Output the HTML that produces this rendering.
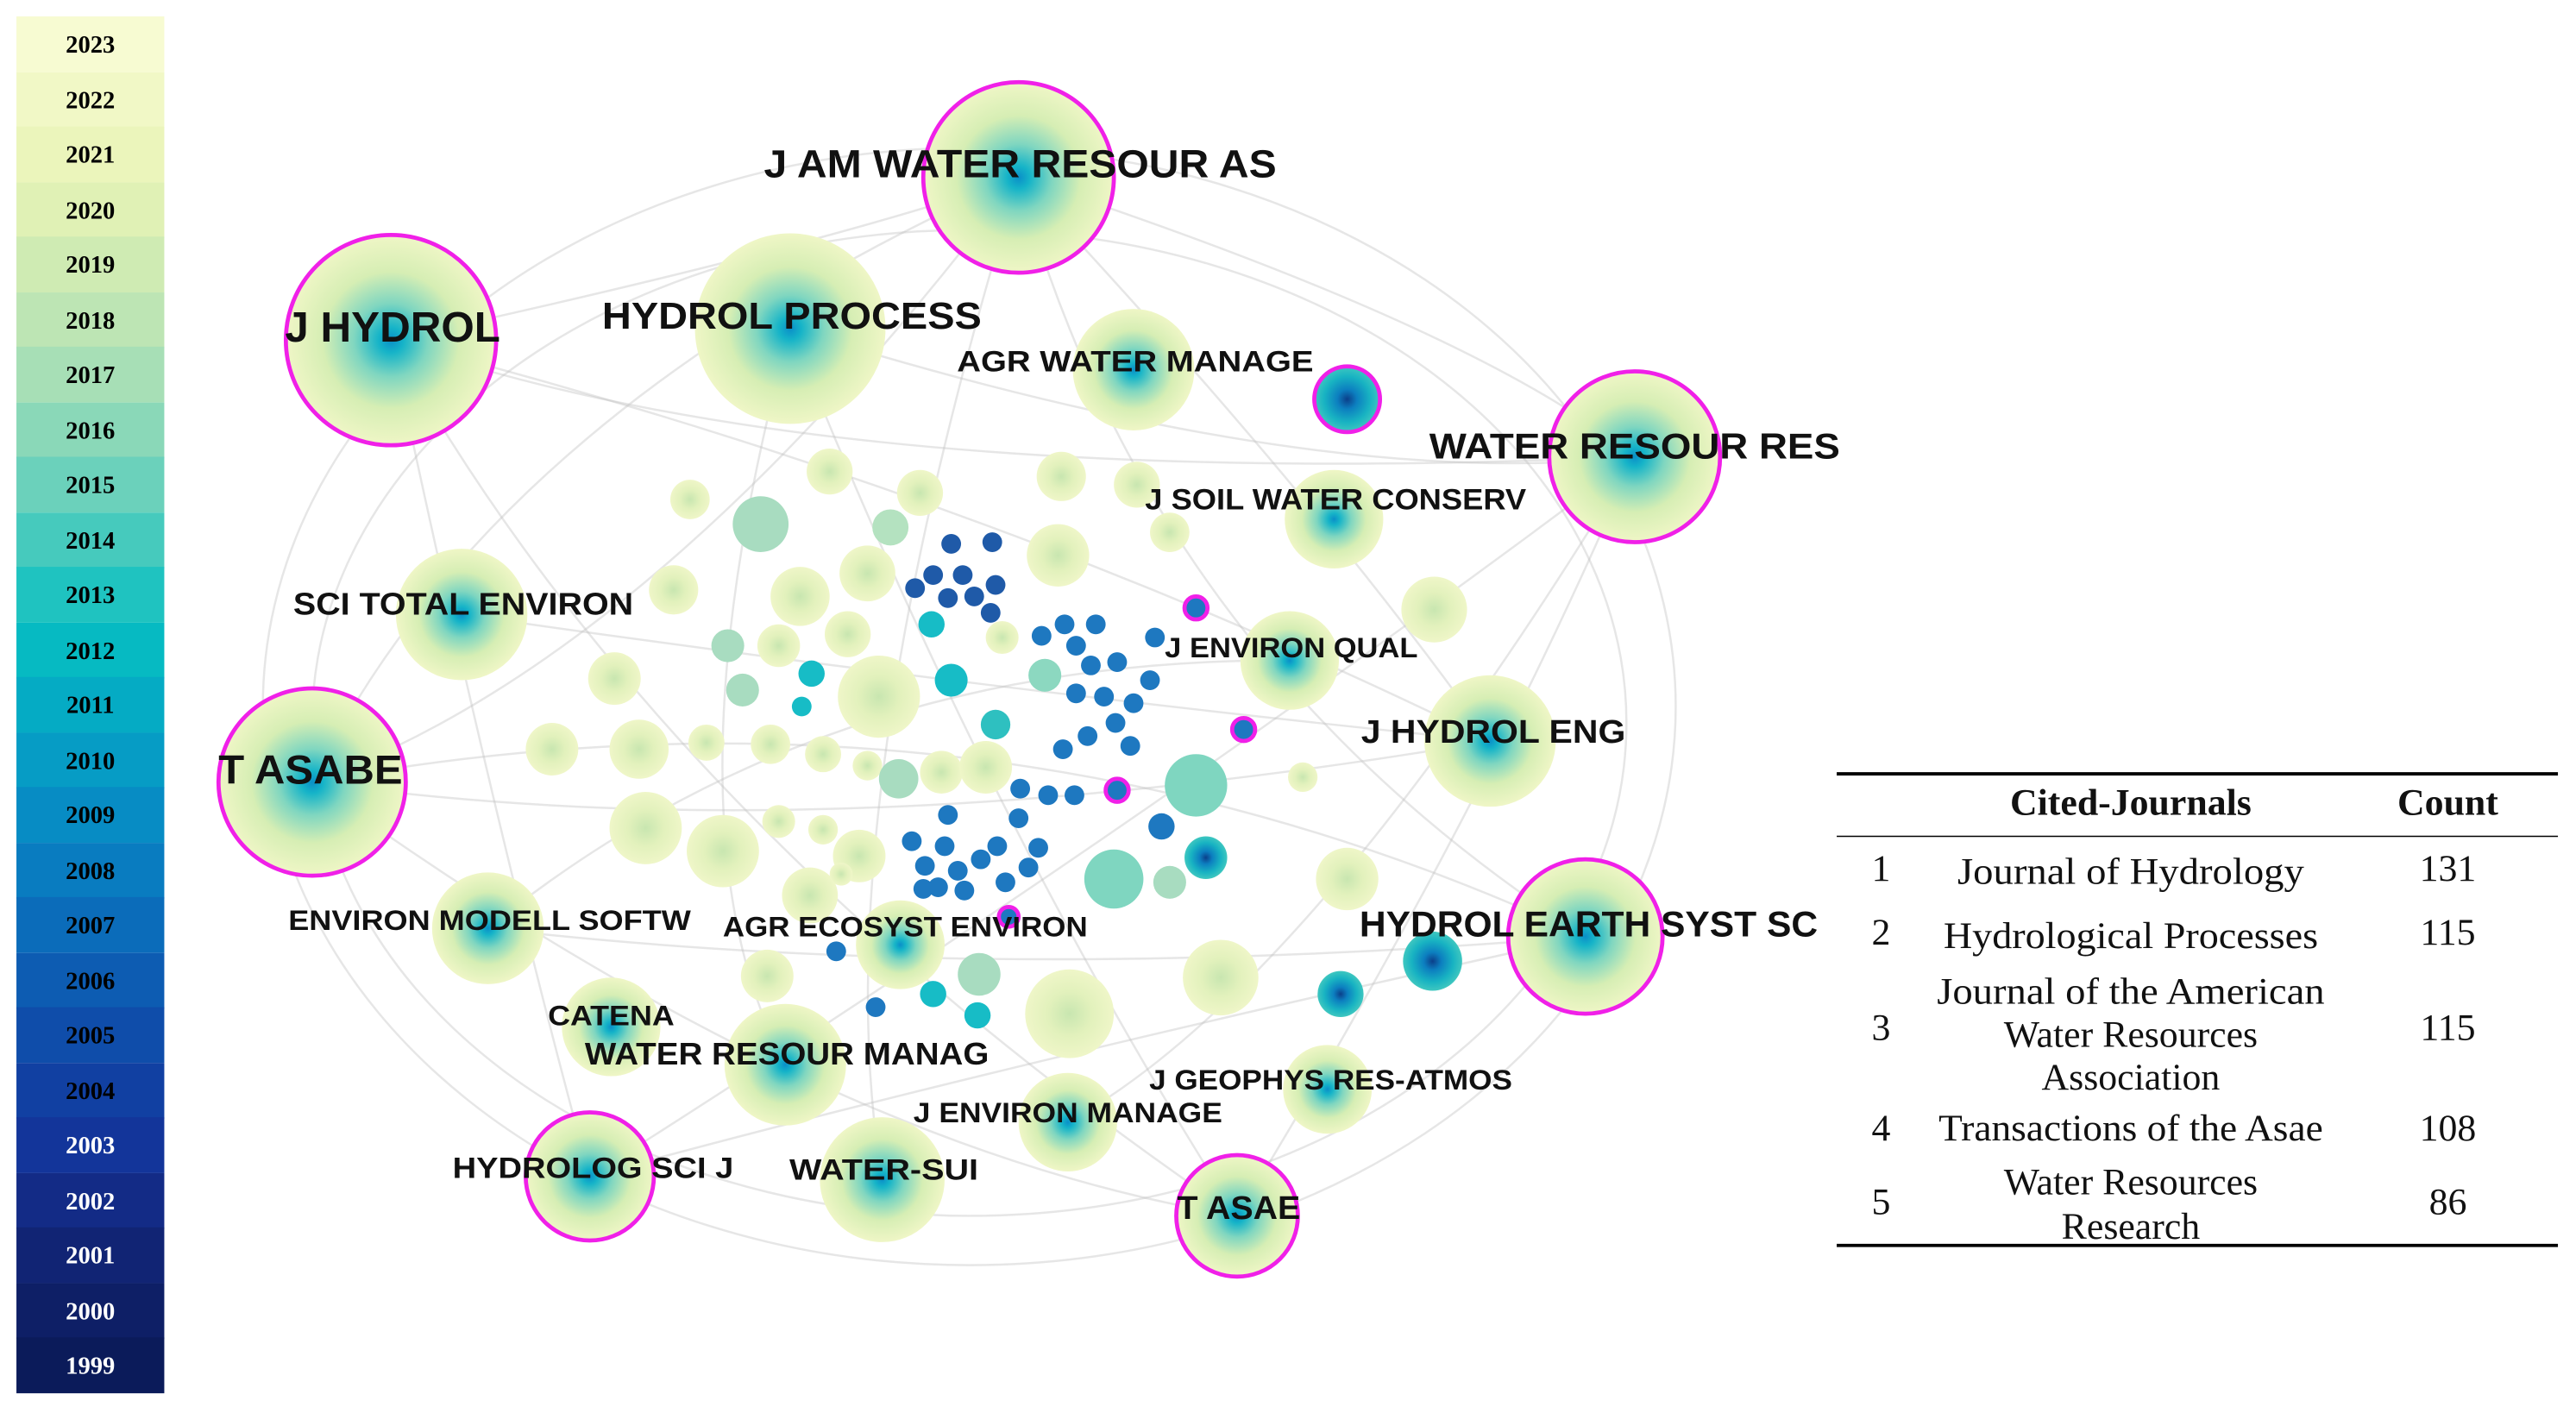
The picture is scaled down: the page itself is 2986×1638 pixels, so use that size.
<!DOCTYPE html>
<html><head><meta charset="utf-8"><style>
html,body{margin:0;padding:0;background:#fff;width:2986px;height:1638px;overflow:hidden}
svg{display:block}
.lab{font-family:"Liberation Sans",sans-serif;font-weight:bold;fill:#111}
.yr{font-family:"Liberation Serif",serif;font-weight:bold;font-size:15px;fill:#000;text-anchor:middle}
.yw{fill:#fff}
.t{font-family:"Liberation Serif",serif;font-size:23px;fill:#111;text-anchor:middle}
</style></head><body>
<svg width="2986" height="1638" viewBox="0 0 1568 860" preserveAspectRatio="none">
<defs>
<radialGradient id="g"><stop offset="0" stop-color="#0a8fc8"/><stop offset="0.12" stop-color="#16b4c8"/><stop offset="0.35" stop-color="#7fd6c0"/><stop offset="0.65" stop-color="#d6eeb4"/><stop offset="1" stop-color="#eff6c6"/></radialGradient>
<radialGradient id="p"><stop offset="0" stop-color="#c8e6b0"/><stop offset="0.5" stop-color="#e2f1bc"/><stop offset="1" stop-color="#eff6c8"/></radialGradient>
<radialGradient id="d"><stop offset="0" stop-color="#0b3f8a"/><stop offset="0.3" stop-color="#0c7fc0"/><stop offset="0.7" stop-color="#18b3c2"/><stop offset="1" stop-color="#3fc7c0"/></radialGradient>
</defs>
<g>
<rect x="10" y="10" width="90" height="34" fill="#f7fbd2"/><rect x="10" y="44" width="90" height="34" fill="#f1f8c6"/>
<rect x="10" y="77" width="90" height="34" fill="#ebf5bb"/><rect x="10" y="111" width="90" height="34" fill="#e0f1b5"/>
<rect x="10" y="144" width="90" height="34" fill="#cfebb3"/><rect x="10" y="178" width="90" height="34" fill="#bde5b4"/>
<rect x="10" y="211" width="90" height="34" fill="#a7dfb6"/><rect x="10" y="245" width="90" height="34" fill="#8ad8b8"/>
<rect x="10" y="278" width="90" height="34" fill="#6bd1bb"/><rect x="10" y="312" width="90" height="34" fill="#46cabd"/>
<rect x="10" y="345" width="90" height="34" fill="#1fc3c0"/><rect x="10" y="379" width="90" height="34" fill="#06bac2"/>
<rect x="10" y="412" width="90" height="34" fill="#05abc4"/><rect x="10" y="446" width="90" height="34" fill="#069cc5"/>
<rect x="10" y="479" width="90" height="34" fill="#078cc4"/><rect x="10" y="513" width="90" height="34" fill="#097cc0"/>
<rect x="10" y="546" width="90" height="34" fill="#0b6cba"/><rect x="10" y="580" width="90" height="34" fill="#0d5cb2"/>
<rect x="10" y="613" width="90" height="34" fill="#0f4daa"/><rect x="10" y="647" width="90" height="34" fill="#1140a2"/>
<rect x="10" y="680" width="90" height="34" fill="#13359a"/><rect x="10" y="714" width="90" height="34" fill="#132b86"/>
<rect x="10" y="747" width="90" height="34" fill="#112474"/><rect x="10" y="781" width="90" height="34" fill="#0e1f66"/>
<rect x="10" y="814" width="90" height="34" fill="#0b1b5a"/>
<text class="yr" x="55" y="32">2023</text><text class="yr" x="55" y="66">2022</text><text class="yr" x="55" y="99">2021</text>
<text class="yr" x="55" y="133">2020</text><text class="yr" x="55" y="166">2019</text><text class="yr" x="55" y="200">2018</text>
<text class="yr" x="55" y="233">2017</text><text class="yr" x="55" y="267">2016</text><text class="yr" x="55" y="300">2015</text>
<text class="yr" x="55" y="334">2014</text><text class="yr" x="55" y="367">2013</text><text class="yr" x="55" y="401">2012</text>
<text class="yr" x="55" y="434">2011</text><text class="yr" x="55" y="468">2010</text><text class="yr" x="55" y="501">2009</text>
<text class="yr" x="55" y="535">2008</text><text class="yr" x="55" y="568">2007</text><text class="yr" x="55" y="602">2006</text>
<text class="yr" x="55" y="635">2005</text><text class="yr" x="55" y="669">2004</text><text class="yr yw" x="55" y="702">2003</text>
<text class="yr yw" x="55" y="736">2002</text><text class="yr yw" x="55" y="769">2001</text><text class="yr yw" x="55" y="803">2000</text>
<text class="yr yw" x="55" y="836">1999</text>
</g>
<g fill="none" stroke="#c0c0c0" stroke-opacity="0.4" stroke-width="1.3">
<ellipse cx="590" cy="430" rx="430" ry="340"/>
<ellipse cx="590" cy="440" rx="400" ry="300"/>
<path d="M238 207 Q500 300 995 278"/><path d="M238 207 Q400 500 753 740"/><path d="M620 108 Q400 400 190 476"/>
<path d="M620 108 Q700 400 965 570"/><path d="M995 278 Q700 500 359 716"/><path d="M190 476 Q600 400 965 570"/>
<path d="M481 200 Q600 500 753 740"/><path d="M238 207 Q600 300 907 451"/><path d="M620 108 Q500 500 537 718"/>
<path d="M190 476 Q500 700 753 740"/><path d="M995 278 Q800 600 650 683"/><path d="M481 200 Q800 300 995 278"/>
<path d="M281 374 Q600 420 907 451"/><path d="M297 565 Q600 600 965 570"/><path d="M359 716 Q600 650 965 570"/>
<path d="M238 207 Q300 500 359 716"/><path d="M620 108 Q900 200 995 278"/><path d="M190 476 Q300 250 620 108"/>
<path d="M238 207 Q500 150 620 108"/><path d="M190 476 Q500 520 907 451"/><path d="M481 200 Q400 500 478 648"/>
<path d="M995 278 Q900 500 753 740"/><path d="M620 108 Q800 300 907 451"/><path d="M297 565 Q500 400 785 402"/>
</g>
<g fill="url(#p)">
<circle cx="420" cy="304" r="12"/><circle cx="505" cy="287" r="14"/><circle cx="560" cy="300" r="14"/><circle cx="463" cy="319" r="17" fill="#a8dcc0"/>
<circle cx="542" cy="321" r="11" fill="#b4e2c0"/><circle cx="528" cy="349" r="17"/><circle cx="646" cy="290" r="15"/><circle cx="692" cy="295" r="14"/>
<circle cx="712" cy="324" r="12"/><circle cx="644" cy="338" r="19"/><circle cx="410" cy="359" r="15"/><circle cx="487" cy="363" r="18"/>
<circle cx="474" cy="393" r="13"/><circle cx="516" cy="386" r="14"/><circle cx="610" cy="388" r="10"/><circle cx="873" cy="371" r="20"/>
<circle cx="374" cy="413" r="16"/><circle cx="443" cy="393" r="10" fill="#a8dcc0"/><circle cx="452" cy="420" r="10" fill="#a8dcc0"/><circle cx="535" cy="424" r="25"/>
<circle cx="336" cy="456" r="16"/><circle cx="389" cy="456" r="18"/><circle cx="430" cy="452" r="11"/><circle cx="469" cy="453" r="12"/>
<circle cx="501" cy="459" r="11"/><circle cx="528" cy="466" r="9"/><circle cx="547" cy="474" r="12" fill="#a8dcc0"/><circle cx="573" cy="470" r="13"/>
<circle cx="600" cy="467" r="16"/><circle cx="393" cy="504" r="22"/><circle cx="440" cy="518" r="22"/><circle cx="474" cy="500" r="10"/>
<circle cx="501" cy="505" r="9"/><circle cx="523" cy="521" r="16"/><circle cx="493" cy="545" r="17"/><circle cx="467" cy="594" r="16"/>
<circle cx="651" cy="617" r="27"/><circle cx="743" cy="595" r="23"/><circle cx="820" cy="535" r="19"/><circle cx="793" cy="473" r="9"/>
<circle cx="596" cy="593" r="13" fill="#a8dcc0"/><circle cx="512" cy="532" r="7"/><circle cx="678" cy="535" r="18" fill="#7fd6c0"/><circle cx="712" cy="537" r="10" fill="#a8dcc0"/>
<circle cx="728" cy="478" r="19" fill="#7fd6c0"/><circle cx="636" cy="411" r="10" fill="#8cd8c0"/><circle cx="606" cy="441" r="9" fill="#2ec0c0"/>
</g>
<g fill="url(#g)">
<circle cx="620" cy="108" r="58"/><circle cx="238" cy="207" r="64"/><circle cx="481" cy="200" r="58"/><circle cx="690" cy="225" r="37"/>
<circle cx="995" cy="278" r="52"/><circle cx="812" cy="316" r="30"/><circle cx="281" cy="374" r="40"/><circle cx="190" cy="476" r="57"/>
<circle cx="785" cy="402" r="30"/><circle cx="907" cy="451" r="40"/><circle cx="965" cy="570" r="47"/><circle cx="297" cy="565" r="34"/>
<circle cx="548" cy="575" r="27"/><circle cx="372" cy="625" r="30"/><circle cx="478" cy="648" r="37"/><circle cx="808" cy="663" r="27"/>
<circle cx="650" cy="683" r="30"/><circle cx="359" cy="716" r="39"/><circle cx="537" cy="718" r="38"/><circle cx="753" cy="740" r="37"/>
<circle cx="820" cy="243" r="20" fill="url(#d)"/><circle cx="872" cy="585" r="18" fill="url(#d)"/><circle cx="816" cy="605" r="14" fill="url(#d)"/>
<circle cx="734" cy="522" r="13" fill="url(#d)"/>
</g>
<g fill="#1f5aa8">
<circle cx="579" cy="331" r="6"/><circle cx="604" cy="330" r="6"/><circle cx="568" cy="350" r="6"/><circle cx="586" cy="350" r="6"/>
<circle cx="557" cy="358" r="6"/><circle cx="577" cy="364" r="6"/><circle cx="593" cy="363" r="6"/><circle cx="606" cy="356" r="6"/><circle cx="603" cy="373" r="6"/>
</g>
<g fill="#1e78c0">
<circle cx="648" cy="380" r="6"/><circle cx="667" cy="380" r="6"/><circle cx="634" cy="387" r="6"/><circle cx="655" cy="393" r="6"/><circle cx="703" cy="388" r="6"/>
<circle cx="664" cy="405" r="6"/><circle cx="680" cy="403" r="6"/><circle cx="700" cy="414" r="6"/><circle cx="655" cy="422" r="6"/><circle cx="672" cy="424" r="6"/>
<circle cx="690" cy="428" r="6"/><circle cx="679" cy="440" r="6"/><circle cx="662" cy="448" r="6"/><circle cx="647" cy="456" r="6"/><circle cx="688" cy="454" r="6"/>
<circle cx="621" cy="480" r="6"/><circle cx="638" cy="484" r="6"/><circle cx="654" cy="484" r="6"/><circle cx="577" cy="496" r="6"/><circle cx="620" cy="498" r="6"/>
<circle cx="555" cy="512" r="6"/><circle cx="575" cy="515" r="6"/><circle cx="607" cy="515" r="6"/><circle cx="632" cy="516" r="6"/><circle cx="563" cy="527" r="6"/>
<circle cx="583" cy="530" r="6"/><circle cx="597" cy="523" r="6"/><circle cx="626" cy="528" r="6"/><circle cx="571" cy="540" r="6"/><circle cx="587" cy="542" r="6"/>
<circle cx="612" cy="537" r="6"/><circle cx="509" cy="579" r="6"/><circle cx="533" cy="613" r="6"/><circle cx="562" cy="541" r="6"/><circle cx="707" cy="503" r="8"/>
</g>
<g fill="#17bcc6"><circle cx="567" cy="380" r="8"/><circle cx="579" cy="414" r="10"/><circle cx="494" cy="410" r="8"/><circle cx="568" cy="605" r="8"/><circle cx="595" cy="618" r="8"/><circle cx="488" cy="430" r="6"/></g>
<g fill="none" stroke="#f020e8" stroke-width="2.5">
<circle cx="620" cy="108" r="58"/><circle cx="238" cy="207" r="64"/><circle cx="995" cy="278" r="52"/><circle cx="190" cy="476" r="57"/>
<circle cx="965" cy="570" r="47"/><circle cx="359" cy="716" r="39"/><circle cx="753" cy="740" r="37"/><circle cx="820" cy="243" r="20"/>
<circle cx="728" cy="370" r="7" fill="#1e78c0"/><circle cx="757" cy="444" r="7" fill="#1e78c0"/><circle cx="680" cy="481" r="7" fill="#1e78c0"/><circle cx="614" cy="558" r="6" fill="#1e78c0"/>
</g>
<g class="lab" text-anchor="middle" lengthAdjust="spacingAndGlyphs">
<text x="621" y="108" font-size="24" textLength="312" lengthAdjust="spacingAndGlyphs">J AM WATER RESOUR AS</text>
<text x="239" y="208" font-size="26" textLength="131" lengthAdjust="spacingAndGlyphs">J HYDROL</text>
<text x="482" y="200" font-size="23" textLength="231" lengthAdjust="spacingAndGlyphs">HYDROL PROCESS</text>
<text x="691" y="226" font-size="18" textLength="217" lengthAdjust="spacingAndGlyphs">AGR WATER MANAGE</text>
<text x="995" y="279" font-size="22" textLength="250" lengthAdjust="spacingAndGlyphs">WATER RESOUR RES</text>
<text x="813" y="310" font-size="18" textLength="232" lengthAdjust="spacingAndGlyphs">J SOIL WATER CONSERV</text>
<text x="282" y="374" font-size="19" textLength="207" lengthAdjust="spacingAndGlyphs">SCI TOTAL ENVIRON</text>
<text x="786" y="400" font-size="17" textLength="154" lengthAdjust="spacingAndGlyphs">J ENVIRON QUAL</text>
<text x="189" y="477" font-size="25" textLength="112" lengthAdjust="spacingAndGlyphs">T ASABE</text>
<text x="909" y="452" font-size="20" textLength="161" lengthAdjust="spacingAndGlyphs">J HYDROL ENG</text>
<text x="967" y="570" font-size="22" textLength="279" lengthAdjust="spacingAndGlyphs">HYDROL EARTH SYST SC</text>
<text x="298" y="566" font-size="17" textLength="245" lengthAdjust="spacingAndGlyphs">ENVIRON MODELL SOFTW</text>
<text x="551" y="570" font-size="17" textLength="222" lengthAdjust="spacingAndGlyphs">AGR ECOSYST ENVIRON</text>
<text x="372" y="624" font-size="17" textLength="77" lengthAdjust="spacingAndGlyphs">CATENA</text>
<text x="479" y="648" font-size="19" textLength="246" lengthAdjust="spacingAndGlyphs">WATER RESOUR MANAG</text>
<text x="810" y="663" font-size="17" textLength="221" lengthAdjust="spacingAndGlyphs">J GEOPHYS RES-ATMOS</text>
<text x="650" y="683" font-size="17" textLength="188" lengthAdjust="spacingAndGlyphs">J ENVIRON MANAGE</text>
<text x="361" y="717" font-size="18" textLength="171" lengthAdjust="spacingAndGlyphs">HYDROLOG SCI J</text>
<text x="538" y="718" font-size="18" textLength="115" lengthAdjust="spacingAndGlyphs">WATER-SUI</text>
<text x="754" y="742" font-size="20" textLength="75" lengthAdjust="spacingAndGlyphs">T ASAE</text>
</g>
<g>
<line x1="1118" y1="471" x2="1557" y2="471" stroke="#000" stroke-width="2"/>
<line x1="1118" y1="509" x2="1557" y2="509" stroke="#000" stroke-width="0.8"/>
<line x1="1118" y1="758" x2="1557" y2="758" stroke="#000" stroke-width="2"/>
<text class="t" x="1297" y="496" font-weight="bold" font-size="22">Cited-Journals</text>
<text class="t" x="1490" y="496" font-weight="bold" font-size="22">Count</text>
<text class="t" x="1145" y="536">1</text><text class="t" x="1297" y="538" textLength="211" lengthAdjust="spacingAndGlyphs">Journal of Hydrology</text><text class="t" x="1490" y="536">131</text>
<text class="t" x="1145" y="575">2</text><text class="t" x="1297" y="577" textLength="228" lengthAdjust="spacingAndGlyphs">Hydrological Processes</text><text class="t" x="1490" y="575">115</text>
<text class="t" x="1297" y="611" textLength="236" lengthAdjust="spacingAndGlyphs">Journal of the American</text>
<text class="t" x="1145" y="633">3</text><text class="t" x="1297" y="637">Water Resources</text><text class="t" x="1490" y="633">115</text>
<text class="t" x="1297" y="663">Association</text>
<text class="t" x="1145" y="694">4</text><text class="t" x="1297" y="694" textLength="234" lengthAdjust="spacingAndGlyphs">Transactions of the Asae</text><text class="t" x="1490" y="694">108</text>
<text class="t" x="1297" y="727">Water Resources</text>
<text class="t" x="1145" y="739">5</text><text class="t" x="1490" y="739">86</text>
<text class="t" x="1297" y="754">Research</text>
</g>
</svg>
</body></html>
